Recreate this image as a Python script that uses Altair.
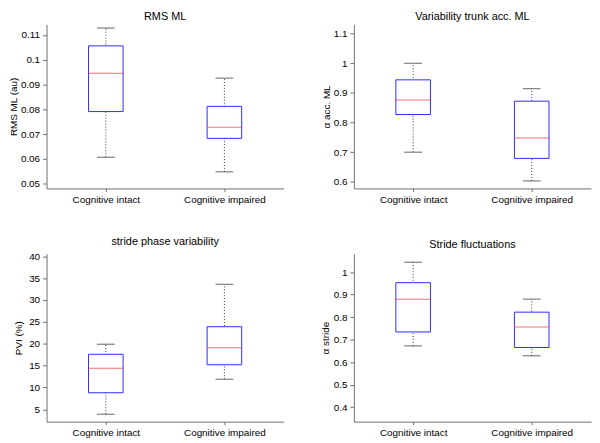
import altair as alt
import pandas as pd

groups = ["Cognitive intact", "Cognitive impaired"]

# RMS ML
rms_lo = [0.0607, 0.0548]
rms_q1 = [0.0791, 0.0683]
rms_med = [0.0946, 0.0728]
rms_q3 = [0.1056, 0.0812]
rms_hi = [0.1128, 0.0926]

# Variability trunk acc. ML
acc_lo = [0.700, 0.603]
acc_q1 = [0.827, 0.679]
acc_med = [0.876, 0.748]
acc_q3 = [0.944, 0.872]
acc_hi = [1.000, 0.914]

# stride phase variability
pvi_lo = [3.9, 11.9]
pvi_q1 = [8.8, 15.2]
pvi_med = [14.4, 19.1]
pvi_q3 = [17.6, 23.9]
pvi_hi = [19.9, 33.6]

# Stride fluctuations
str_lo = [0.672, 0.628]
str_q1 = [0.734, 0.665]
str_med = [0.879, 0.756]
str_q3 = [0.953, 0.822]
str_hi = [1.044, 0.880]

BLUE = "#2b2bff"
RED = "#ff3030"
FONT = "Liberation Sans"


def panel(title, ytitle, lo, q1, med, q3, hi, domain, ticks, height,
          title_pad, title_offset):
    df = pd.DataFrame({"group": groups, "lo": lo, "q1": q1, "med": med,
                       "q3": q3, "hi": hi})
    x = alt.X("group:N", sort=groups,
              scale=alt.Scale(type="point", padding=0.5),
              axis=alt.Axis(title=None, labelAngle=0, tickSize=3,
                            labelPadding=3))
    ysc = alt.Scale(domain=domain, nice=False, zero=False)
    yax = alt.Axis(values=ticks, format="~g", titlePadding=title_pad,
                   tickSize=4, labelPadding=3)

    def Y(f):
        return alt.Y(f + ":Q", scale=ysc, axis=yax, title=ytitle)

    base = alt.Chart(df)
    whisk = base.mark_rule(strokeDash=[1, 2], color="#333333",
                           strokeWidth=1).encode(x=x, y=Y("lo"), y2="hi:Q")
    box = base.mark_bar(size=35, fill="white", stroke=BLUE,
                        strokeWidth=1).encode(x=x, y=Y("q1"), y2="q3:Q")
    medm = base.mark_tick(orient="horizontal", size=35, thickness=1,
                          color=RED).encode(x=x, y=Y("med"))
    cap_lo = base.mark_tick(orient="horizontal", size=18, thickness=1,
                            color="#222222").encode(x=x, y=Y("lo"))
    cap_hi = base.mark_tick(orient="horizontal", size=18, thickness=1,
                            color="#222222").encode(x=x, y=Y("hi"))
    return alt.layer(whisk, box, medm, cap_lo, cap_hi).properties(
        width=240, height=height,
        title=alt.TitleParams(title, offset=title_offset))


p1 = panel("RMS ML", "RMS ML (au)", rms_lo, rms_q1, rms_med, rms_q3, rms_hi,
           [0.0481, 0.11426], [0.05, 0.06, 0.07, 0.08, 0.09, 0.1, 0.11],
           166, 2, 2)
p2 = panel("Variability trunk acc. ML", "\u03b1 acc. ML", acc_lo, acc_q1,
           acc_med, acc_q3, acc_hi, [0.5777, 1.131],
           [0.6, 0.7, 0.8, 0.9, 1.0, 1.1], 166, 2, 2)
p3 = panel("stride phase variability", "PVI (%)", pvi_lo, pvi_q1, pvi_med,
           pvi_q3, pvi_hi, [2.2, 40.6], [5, 10, 15, 20, 25, 30, 35, 40],
           170, 5, 4)
p4 = panel("Stride fluctuations", "\u03b1 stride", str_lo, str_q1, str_med,
           str_q3, str_hi, [0.3355, 1.082],
           [0.4, 0.5, 0.6, 0.7, 0.8, 0.9, 1.0], 170, 3, 4)

chart = alt.concat(p1, p2, p3, p4, columns=2, bounds="flush",
                   spacing={"row": 66, "column": 71}).properties(
    padding=0
).configure_view(
    stroke="transparent"
).configure_axis(
    grid=False, domainColor="#707070", tickColor="#707070",
    labelColor="#000000", titleColor="#000000", labelFont=FONT,
    titleFont=FONT, labelFontSize=10, titleFontSize=10,
    titleFontWeight="normal", domainWidth=1, tickWidth=1
).configure_title(
    font=FONT, fontSize=11, fontWeight="normal", color="#000000",
    anchor="middle"
)

chart.save("out.html", embed_options={"renderer": "svg", "actions": False})
